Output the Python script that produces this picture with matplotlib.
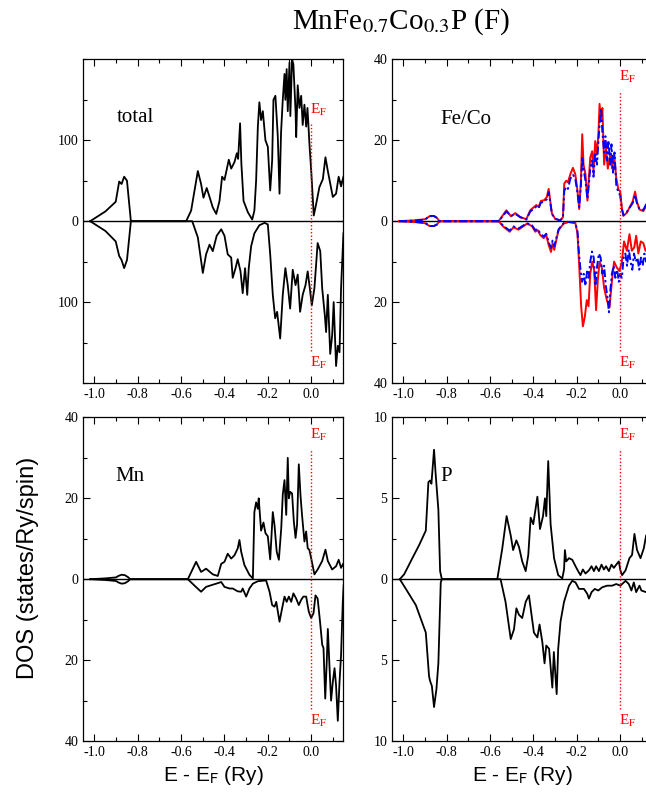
import numpy as np
import matplotlib
matplotlib.use("Agg")
import matplotlib.pyplot as plt
from matplotlib.ticker import MultipleLocator, FuncFormatter

# ---- data (energy in Ry relative to E_F, DOS values) ----
# total DOS, spin up
tot_up_E = [-1.02, -0.95, -0.902, -0.886, -0.875, -0.863, -0.85, -0.832, -0.577, -0.554, -0.523, -0.508,
            -0.497, -0.482, -0.469, -0.454, -0.438, -0.423, -0.411, -0.400, -0.380, -0.369, -0.354,
            -0.343, -0.337, -0.328, -0.322, -0.312, -0.292, -0.272, -0.262, -0.254, -0.246, -0.239,
            -0.231, -0.223, -0.211, -0.200, -0.189, -0.180, -0.174, -0.165, -0.154, -0.146, -0.139,
            -0.131, -0.123, -0.119, -0.113, -0.108, -0.100, -0.096, -0.088, -0.082, -0.072, -0.069,
            -0.062, -0.054, -0.046, -0.039, -0.031, -0.023, -0.017, -0.008, 0.001, 0.012, 0.023,
            0.038, 0.054, 0.066, 0.077, 0.100, 0.115, 0.127, 0.138, 0.149]
tot_up = [0, 12, 24, 49, 46, 55, 50, 0, 0, 13, 62, 46,
          29, 41, 30, 17, 9, 25, 55, 51, 76, 65, 73,
          84, 77, 121, 71, 25, 11, 2, 13, 50, 117, 147,
          125, 136, 100, 92, 38, 75, 150, 155, 105, 34, 109,
          150, 182, 150, 188, 136, 196, 130, 200, 194, 136, 104,
          168, 140, 155, 119, 144, 117, 140, 96, 59, 7, 21,
          42, 52, 79, 62, 30, 34, 55, 43, 55]
# total DOS, spin down (plotted negative)
tot_dn_E = [-1.02, -0.95, -0.902, -0.886, -0.875, -0.863, -0.85, -0.832, -0.549, -0.523, -0.500, -0.485,
            -0.469, -0.454, -0.436, -0.415, -0.400, -0.385, -0.369, -0.362, -0.349, -0.339, -0.326,
            -0.316, -0.305, -0.295, -0.288, -0.277, -0.262, -0.239, -0.215, -0.200, -0.189, -0.177,
            -0.166, -0.157, -0.143, -0.131, -0.119, -0.108, -0.097, -0.085, -0.072, -0.062, -0.051,
            -0.039, -0.026, -0.016, -0.008, 0.003, 0.015, 0.030, 0.042, 0.051, 0.063, 0.069, 0.077,
            0.088, 0.097, 0.104, 0.115, 0.123, 0.131, 0.138, 0.149]
tot_dn = [0, 12, 25, 43, 48, 58, 48, 0, 0, 20, 64, 41,
          29, 37, 18, 10, 18, 41, 45, 70, 58, 47, 62,
          89, 58, 91, 58, 31, 15, 5, 2, 4, 41, 91,
          120, 112, 145, 91, 58, 79, 108, 60, 79, 66, 112,
          91, 79, 62, 79, 104, 83, 27, 37, 83, 116, 137, 91,
          164, 141, 100, 179, 154, 162, 83, 15]

# Fe/Co site DOS: Fe (red, solid), Co (blue, dash-dot)
fe_up_E = [-1.02, -0.95, -0.90, -0.88, -0.86, -0.845, -0.835, -0.561, -0.525, -0.504, -0.484, -0.461,
           -0.433, -0.415, -0.400, -0.387, -0.376, -0.366, -0.350, -0.338, -0.330, -0.323, -0.315,
           -0.300, -0.277, -0.264, -0.258, -0.249, -0.241, -0.230, -0.218, -0.207, -0.197, -0.189,
           -0.181, -0.175, -0.169, -0.160, -0.151, -0.138, -0.129, -0.123, -0.115, -0.107, -0.100,
           -0.095, -0.089, -0.082, -0.074, -0.065, -0.057, -0.046, -0.037, -0.028, -0.018, -0.008,
           0.000, 0.008, 0.015, 0.031, 0.046, 0.058, 0.069, 0.077, 0.089, 0.107, 0.120, 0.135, 0.150]
fe_up = [0, 0.2, 0.5, 1.2, 1.3, 0.8, 0, 0, 2.7, 1.2, 2.0, 1.0,
         0.5, 2.7, 3.4, 4.0, 3.5, 5.0, 5.2, 6.0, 8.0, 5.2, 1.9,
         0.6, 0.2, 1.0, 9.3, 10.0, 9.6, 11.6, 13.2, 11.6, 7.5, 3.0,
         10.0, 21.5, 14.0, 11.6, 5.1, 15.7, 17.3, 12.4, 19.8, 16.5, 22.0,
         29.0, 24.8, 28.0, 14.0, 18.0, 13.0, 16.4, 13.0, 16.4, 10.7, 7.8,
         7.4, 3.3, 1.3, 2.1, 3.7, 4.9, 7.3, 4.9, 2.9, 2.5, 3.7, 4.5, 5.0]
fe_dn_E = [-1.02, -0.95, -0.90, -0.88, -0.86, -0.845, -0.835, -0.561, -0.538, -0.510, -0.492, -0.469,
           -0.448, -0.430, -0.407, -0.392, -0.381, -0.369, -0.353, -0.341, -0.330, -0.319, -0.312,
           -0.304, -0.295, -0.284, -0.261, -0.238, -0.207, -0.197, -0.188, -0.180, -0.172, -0.163,
           -0.154, -0.146, -0.138, -0.129, -0.120, -0.111, -0.103, -0.095, -0.084, -0.074, -0.061,
           -0.049, -0.038, -0.028, -0.015, -0.003, 0.008, 0.018, 0.031, 0.043, 0.054, 0.065, 0.074,
           0.084, 0.095, 0.107, 0.117, 0.135, 0.150]
fe_dn = [0, 0.2, 0.5, 1.2, 1.2, 0.8, 0, 0, 1.4, 2.6, 1.5, 2.1,
         1.3, 0.6, 1.2, 2.6, 2.2, 3.4, 4.2, 3.4, 5.9, 7.6, 5.5,
         7.1, 4.7, 2.2, 0.6, 0.2, 0.4, 3.0, 12.0, 21.0, 26.0, 23.6,
         19.5, 21.0, 13.0, 10.0, 12.0, 22.0, 14.5, 10.0, 11.6, 16.5, 19.6,
         21.3, 14.8, 10.0, 11.5, 12.3, 10.0, 5.0, 7.3, 3.2, 7.3, 6.5, 3.6,
         8.0, 5.0, 5.4, 7.3, 6.0, 5.5]
co_up_E = [-1.02, -0.95, -0.90, -0.88, -0.86, -0.845, -0.835, -0.56, -0.525, -0.504, -0.484, -0.461,
           -0.433, -0.415, -0.400, -0.387, -0.376, -0.366, -0.350, -0.338, -0.330, -0.323, -0.315,
           -0.300, -0.277, -0.264, -0.258, -0.249, -0.241, -0.230, -0.218, -0.207, -0.197, -0.189,
           -0.181, -0.175, -0.169, -0.160, -0.151, -0.138, -0.129, -0.123, -0.115, -0.107, -0.100,
           -0.095, -0.088, -0.082, -0.074, -0.068, -0.060, -0.054, -0.046, -0.040, -0.033, -0.026,
           -0.018, -0.008, 0.000, 0.008, 0.015, 0.031, 0.046, 0.058, 0.069, 0.077, 0.089, 0.107,
           0.120, 0.135, 0.150]
co_up = [0, 0.15, 0.4, 1.3, 1.3, 0.8, 0, 0, 2.4, 1.3, 1.8, 1.0,
         0.4, 2.4, 3.0, 3.6, 3.2, 4.6, 4.8, 5.5, 7.2, 4.8, 1.8,
         0.6, 0.2, 0.8, 7.5, 8.5, 8.0, 10.5, 11.5, 10.5, 7.0, 3.5,
         9.0, 16.0, 13.0, 10.0, 5.5, 13.0, 15.0, 11.0, 17.0, 14.0, 20.0,
         24.0, 28.0, 22.0, 17.0, 21.0, 15.0, 20.0, 14.0, 19.0, 12.0, 17.0,
         9.0, 7.0, 6.5, 3.0, 1.5, 2.3, 3.5, 4.5, 6.5, 4.5, 3.0, 2.8,
         4.2, 5.0, 5.5]
co_dn_E = [-1.02, -0.95, -0.90, -0.88, -0.86, -0.845, -0.835, -0.56, -0.538, -0.510, -0.492, -0.469,
           -0.448, -0.430, -0.407, -0.392, -0.381, -0.369, -0.353, -0.341, -0.330, -0.319, -0.312,
           -0.304, -0.295, -0.284, -0.261, -0.238, -0.207, -0.197, -0.190, -0.183, -0.176, -0.168,
           -0.160, -0.152, -0.145, -0.138, -0.130, -0.122, -0.114, -0.106, -0.098, -0.090, -0.082,
           -0.074, -0.066, -0.058, -0.052, -0.045, -0.038, -0.030, -0.022, -0.014, -0.006, 0.000,
           0.008, 0.016, 0.024, 0.032, 0.040, 0.048, 0.056, 0.064, 0.072, 0.080, 0.088, 0.096,
           0.104, 0.112, 0.120, 0.135, 0.150]
co_dn = [0, 0.15, 0.4, 1.2, 1.2, 0.8, 0, 0, 1.2, 2.3, 1.3, 1.8,
         1.1, 0.5, 1.0, 2.2, 1.9, 3.0, 3.8, 3.1, 5.2, 6.6, 4.8,
         6.2, 4.2, 2.0, 0.5, 0.2, 0.4, 2.5, 8.0, 12.0, 15.0, 13.0,
         16.0, 12.0, 14.0, 10.0, 7.5, 9.0, 16.0, 11.0, 8.0, 9.0, 13.0,
         11.0, 16.0, 19.0, 22.5, 17.0, 13.0, 11.0, 14.0, 12.0, 15.0, 13.0,
         14.0, 9.0, 8.0, 11.0, 7.0, 10.0, 12.0, 8.0, 10.0, 9.0, 12.0, 9.0,
         11.0, 8.0, 10.0, 9.0, 8.0]

# Mn site DOS
mn_up_E = [-1.02, -0.95, -0.90, -0.89, -0.875, -0.86, -0.845, -0.835, -0.569, -0.531, -0.508, -0.485,
           -0.454, -0.431, -0.415, -0.400, -0.385, -0.369, -0.354, -0.339, -0.331, -0.323, -0.308,
           -0.285, -0.269, -0.262, -0.254, -0.246, -0.242, -0.231, -0.220, -0.211, -0.200, -0.189,
           -0.177, -0.169, -0.159, -0.149, -0.138, -0.131, -0.123, -0.115, -0.108, -0.103, -0.097,
           -0.088, -0.080, -0.072, -0.065, -0.057, -0.049, -0.042, -0.031, -0.023, -0.016, -0.008,
           0.000, 0.015, 0.030, 0.051, 0.066, 0.077, 0.097, 0.115, 0.127, 0.138, 0.150]
mn_up = [0, 0.2, 0.45, 0.8, 1.1, 1.0, 0.5, 0, 0, 4.3, 1.8, 2.6,
         1.2, 0.8, 3.8, 4.3, 6.3, 5.1, 5.9, 7.6, 9.7, 6.8, 3.5,
         1.1, 0.2, 16.6, 19.0, 17.4, 20.0, 12.0, 14.0, 11.4, 10.6, 4.9,
         16.6, 13.3, 6.8, 4.8, 12.6, 20.9, 24.5, 15.9, 30.0, 20.0, 21.6,
         21.2, 14.3, 10.2, 13.5, 28.4, 20.6, 15.8, 9.3, 11.8, 7.7, 7.2,
         5.2, 1.2, 2.4, 4.5, 7.3, 4.5, 2.4, 3.2, 4.8, 2.8, 4.0]
mn_dn_E = [-1.02, -0.95, -0.90, -0.89, -0.875, -0.86, -0.845, -0.835, -0.569, -0.540, -0.508, -0.485,
           -0.462, -0.438, -0.415, -0.400, -0.377, -0.362, -0.339, -0.323, -0.316, -0.300, -0.285,
           -0.269, -0.246, -0.208, -0.192, -0.180, -0.169, -0.161, -0.146, -0.134, -0.123, -0.113,
           -0.103, -0.092, -0.082, -0.069, -0.057, -0.046, -0.036, -0.023, -0.011, 0.000, 0.011,
           0.020, 0.030, 0.041, 0.051, 0.057, 0.065, 0.072, 0.077, 0.085, 0.092, 0.100, 0.108,
           0.115, 0.123, 0.131, 0.138, 0.146, 0.150]
mn_dn = [0, 0.2, 0.45, 0.8, 1.1, 1.0, 0.5, 0, 0, 1.5, 3.1, 1.9,
         1.5, 1.1, 0.7, 1.9, 2.3, 2.3, 3.0, 3.1, 2.3, 4.3, 2.3,
         1.1, 0.5, 0.3, 3.1, 6.4, 6.8, 5.6, 10.5, 7.2, 4.3, 5.6,
         4.3, 5.6, 3.5, 4.8, 6.4, 5.1, 4.3, 4.3, 8.0, 9.6, 8.4,
         4.0, 4.8, 10.5, 16.2, 17.0, 29.5, 20.4, 12.3, 22.0, 30.0, 25.4, 22.0,
         26.3, 35.0, 25.4, 18.8, 5.6, 1.5]

# P site DOS
p_up_E = [-1.017, -0.997, -0.959, -0.928, -0.897, -0.885, -0.877, -0.871, -0.859, -0.851, -0.839, -0.831,
          -0.823, -0.567, -0.544, -0.524, -0.505, -0.494, -0.479, -0.467, -0.452, -0.436, -0.424,
          -0.413, -0.401, -0.382, -0.370, -0.356, -0.347, -0.341, -0.332, -0.321, -0.305, -0.286,
          -0.267, -0.259, -0.255, -0.249, -0.236, -0.221, -0.206, -0.194, -0.183, -0.172, -0.160,
          -0.144, -0.132, -0.121, -0.111, -0.098, -0.086, -0.075, -0.065, -0.052, -0.040, -0.029,
          -0.018, -0.006, 0.001, 0.009, 0.025, 0.043, 0.055, 0.066, 0.078, 0.094, 0.109, 0.120,
          0.135, 0.150]
p_up = [0, 0.3, 1.3, 2.1, 3.0, 6.0, 6.1, 5.9, 8.0, 6.4, 4.3, 0.5,
        0, 0, 1.9, 3.9, 2.7, 1.8, 2.4, 2.0, 1.1, 0.5, 1.5,
        3.8, 3.4, 5.1, 3.1, 3.9, 5.0, 3.9, 7.3, 3.4, 1.3, 0.25,
        0.05, 0.6, 1.8, 1.1, 1.3, 1.2, 0.8, 0.5, 0.25, 0.6, 0.35,
        0.55, 0.8, 0.5, 0.8, 0.5, 0.9, 0.6, 0.8, 0.5, 0.9, 0.7,
        0.9, 1.1, 0.55, 0.25, 0.55, 1.3, 1.5, 2.8, 1.8, 1.3, 1.9, 2.7,
        3.0, 3.2]
p_dn_E = [-1.017, -0.989, -0.943, -0.897, -0.882, -0.877, -0.869, -0.859, -0.848, -0.839, -0.828, -0.823,
          -0.552, -0.529, -0.505, -0.490, -0.479, -0.467, -0.452, -0.436, -0.421, -0.409, -0.398,
          -0.382, -0.372, -0.359, -0.349, -0.341, -0.328, -0.313, -0.306, -0.293, -0.286, -0.275,
          -0.259, -0.236, -0.221, -0.206, -0.190, -0.167, -0.152, -0.144, -0.132, -0.117, -0.101,
          -0.083, -0.060, -0.037, -0.018, 0.001, 0.025, 0.040, 0.052, 0.063, 0.074, 0.089, 0.098,
          0.120, 0.135, 0.150]
p_dn = [0, 0.6, 1.6, 3.3, 6.0, 6.3, 6.6, 7.9, 6.8, 5.2, 0.2, 0,
        0, 1.4, 3.7, 3.1, 1.8, 2.2, 2.4, 1.4, 1.0, 2.2, 3.3,
        3.6, 2.8, 3.9, 5.2, 4.1, 4.3, 6.7, 4.5, 7.1, 4.3, 2.6,
        1.4, 0.4, 0.1, 0.2, 0.6, 0.6, 0.9, 1.2, 0.8, 0.6, 0.7,
        0.5, 0.4, 0.4, 0.3, 0.4, 0.1, 0.3, 0.7, 0.2, 0.8, 0.4, 0.7,
        0.8, 0.8, 0.9]

panel_names = ["total", "Fe/Co", "Mn", "P"]
panel_ymax = [200, 40, 40, 10]
panel_ystep = [100, 20, 20, 5]
# how far the dotted E_F line reaches (fraction of ymax)
ef_top = [0.60, 0.80, 0.80, 0.80]
ef_bot = [0.80, 0.80, 0.80, 0.80]

plt.rcParams["font.family"] = "Liberation Serif"
plt.rcParams["mathtext.fontset"] = "stix"
plt.rcParams["axes.unicode_minus"] = False

fig = plt.figure(figsize=(6.46, 8.01), dpi=100)

W = 260 / 646
H = 0.4040
positions = [[83 / 646, 1 - 383 / 801, W, H],
             [392 / 646, 1 - 383 / 801, W, H],
             [83 / 646, 1 - 741 / 801, W, H],
             [392 / 646, 1 - 741 / 801, W, H]]
label_xy = [(0.13, 0.82), (0.185, 0.814), (0.123, 0.816), (0.185, 0.816)]

axes = [fig.add_axes(p) for p in positions]

# black curves
axes[0].plot(tot_up_E, tot_up, color="black", lw=1.3)
axes[0].plot(tot_dn_E, -np.array(tot_dn), color="black", lw=1.3)
axes[2].plot(mn_up_E, mn_up, color="black", lw=1.3)
axes[2].plot(mn_dn_E, -np.array(mn_dn), color="black", lw=1.3)
axes[3].plot(p_up_E, p_up, color="black", lw=1.3)
axes[3].plot(p_dn_E, -np.array(p_dn), color="black", lw=1.3)

# Fe red solid, Co blue dash-dot
dashdot = (0, (4, 1.5, 1.2, 1.5))
axes[1].plot(fe_up_E, fe_up, color="red", lw=1.4)
axes[1].plot(fe_dn_E, -np.array(fe_dn), color="red", lw=1.4)
axes[1].plot(co_up_E, co_up, color="blue", lw=1.4, ls=dashdot)
axes[1].plot(co_dn_E, -np.array(co_dn), color="blue", lw=1.4, ls=dashdot)

for i, ax in enumerate(axes):
    ym = panel_ymax[i]
    ax.set_xlim(-1.053, 0.147)
    ax.set_ylim(-ym, ym)
    ax.axhline(0, color="black", lw=1.0, zorder=1)
    # Fermi level
    ax.plot([0, 0], [-ef_bot[i] * ym, ef_top[i] * ym], color="red", lw=1.0, ls=(0, (1, 1.5)))
    ax.text(-0.004, (ef_top[i] + 0.09) * ym, r"E$_\mathrm{F}$", color="red", fontsize=11,
            ha="left", va="center")
    ax.text(-0.004, -0.875 * ym, r"E$_\mathrm{F}$", color="red", fontsize=11,
            ha="left", va="center")
    ax.text(label_xy[i][0], label_xy[i][1], panel_names[i], transform=ax.transAxes,
            fontsize=15, ha="left", va="center")

    ax.xaxis.set_major_locator(MultipleLocator(0.2))
    ax.xaxis.set_minor_locator(MultipleLocator(0.1))
    ax.xaxis.set_major_formatter(FuncFormatter(lambda v, p: "%.1f" % v))
    st = panel_ystep[i]
    if i == 0:
        ax.set_yticks([-100, 0, 100])
    else:
        ax.set_yticks([-2 * st, -st, 0, st, 2 * st])
    ax.yaxis.set_minor_locator(MultipleLocator(st / 2))
    ax.yaxis.set_major_formatter(FuncFormatter(lambda v, p: "%g" % abs(v)))
    # right-hand panels are cut by the figure edge, so no right ticks show there
    ax.tick_params(which="both", direction="in", top=True, right=(i % 2 == 0), labelsize=10)
    ax.tick_params(which="major", length=5, width=0.8)
    ax.tick_params(which="minor", length=3, width=0.8)
    for s in ax.spines.values():
        s.set_linewidth(0.9)

for ax in axes[2:]:
    ax.set_xlabel(r"E - E$_\mathrm{F}$ (Ry)", fontsize=15, family="Liberation Sans",
                  math_fontfamily="stixsans", labelpad=4)

fig.text(28 / 646, 1 - 568 / 801, "DOS (states/Ry/spin)", rotation=90, fontsize=17,
         family="Liberation Sans", ha="center", va="center")
fig.text(401 / 646, 1 - 22 / 801, r"MnFe$_{0.7}$Co$_{0.3}$P (F)", fontsize=21,
         ha="center", va="center")

plt.savefig("out.png", dpi=100)
